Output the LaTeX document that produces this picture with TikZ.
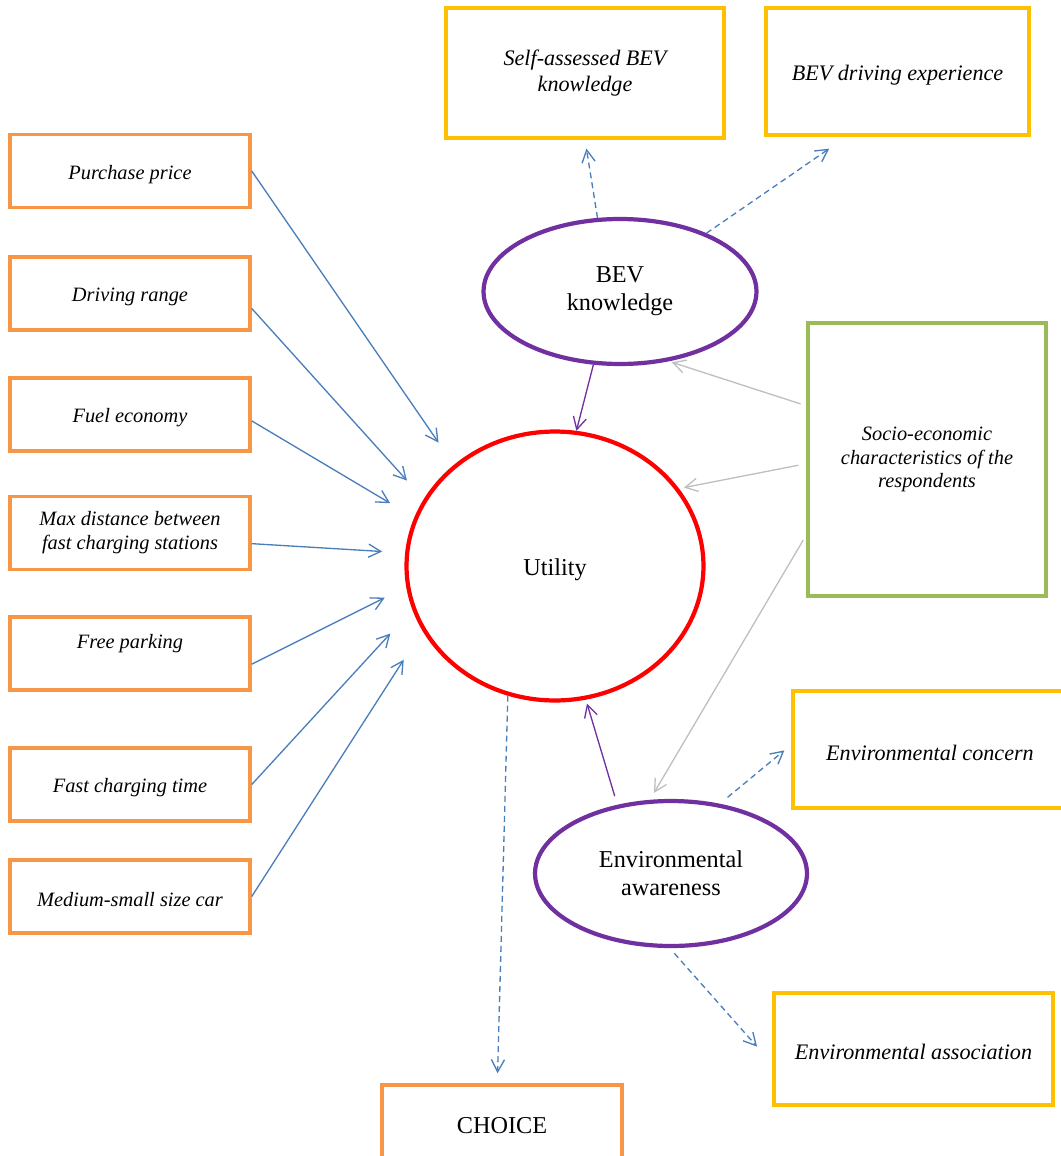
\documentclass[tikz,border=0pt]{standalone}
\usepackage{fontspec}
\setmainfont{Liberation Serif}
\usetikzlibrary{arrows.meta, shapes.geometric}

\definecolor{attrorange}{HTML}{F79646}
\definecolor{indyellow}{HTML}{FFC000}
\definecolor{socgreen}{HTML}{9BBB59}
\definecolor{latpurple}{HTML}{7030A0}
\definecolor{arrblue}{HTML}{4A7EBB}
\definecolor{arrgray}{HTML}{BFBFBF}

\begin{document}
\begin{tikzpicture}[x=0.02cm, y=-0.02cm,
                >={Straight Barb[length=7pt, width=7.5pt]},
                every node/.append style={execute at begin node={\rule{0pt}{1em}}},
                attr/.style={draw=attrorange, line width=2pt, minimum width=4.8cm, minimum height=1.46cm,
                    inner sep=0pt, align=center, font=\fontsize{11.6}{13.6}\selectfont\itshape},
                ind/.style={draw=indyellow, line width=2pt, inner sep=0pt, align=center,
                    font=\fontsize{12.6}{14.7}\selectfont\itshape},
                latent/.style={ellipse, draw=latpurple, line width=2.4pt, inner sep=0pt, align=center,
                    minimum width=5.46cm, minimum height=2.9cm, font=\fontsize{13.8}{15.9}\selectfont},
                attr arrow/.style={->, arrblue, line width=0.75pt},
                lat arrow/.style={->, latpurple, line width=0.75pt},
                soc arrow/.style={->, arrgray, line width=0.75pt},
                ind arrow/.style={->, arrblue, line width=0.75pt, dash pattern=on 3.4pt off 2.3pt}
            ]

            \useasboundingbox (0,0) rectangle (1061,1156);

            \node[attr] (pp) at (130,171) {Purchase price};
            \node[attr] (dr) at (130,293.5) {Driving range};
            \node[attr] (fe) at (130,414.5) {Fuel economy};
            \node[attr] (md) at (130,533) {Max distance between\\fast charging stations};
            \node[attr] (fp) at (130,653.5) {Free parking\\};
            \node[attr] (fc) at (130,784.5) {Fast charging time};
            \node[attr] (ms) at (130,896.5) {Medium-small size car};

            \node[ellipse, draw=red, line width=2.4pt, minimum width=5.94cm, minimum height=5.38cm,
                font=\fontsize{13.8}{15.9}\selectfont] (util) at (555,566) {Utility};
            \node[latent] (bev) at (620,291.5) {BEV\\knowledge};
            \node[latent, minimum width=5.44cm] (env) at (671,873.5) {Environmental\\awareness};

            \node[ind, minimum width=5.56cm, minimum height=2.6cm] (sab) at (585,73) {Self-assessed BEV\\knowledge};
            \node[ind, minimum width=5.26cm, minimum height=2.54cm] (drv) at (897.5,71.5) {BEV driving experience};
            \node[ind, minimum width=5.48cm, minimum height=2.34cm] (conc) at (930,749.5) {Environmental concern};
            \node[ind, minimum width=5.58cm, minimum height=2.24cm] (assoc) at (913.5,1049) {Environmental association};

            \node[draw=socgreen, line width=2pt, minimum width=4.76cm, minimum height=5.46cm, inner sep=0pt,
                align=center, font=\fontsize{11.6}{13.6}\selectfont\itshape] (socio) at (927,459.5)
                {Socio-economic\\characteristics of the\\respondents};

            \node[attr, font=\fontsize{13.8}{15.9}\selectfont] (choice) at (502,1121.5) {CHOICE};

            \draw[attr arrow, shorten >=0.54cm] (pp.east) -- (util.135);
            \draw[attr arrow, shorten >=0.5cm] (dr.-7) -- (util.153);
            \draw[attr arrow, shorten >=0.56cm] (fe.-3) -- (util.161);
            \draw[attr arrow, shorten >=0.46cm] (md.-5) -- (util.175);
            \draw[attr arrow, shorten >=0.48cm] (fp.-5) -- (util.-172);
            \draw[attr arrow, shorten >=0.65cm] (fc.east) -- (util.-163);
            \draw[attr arrow, shorten >=0.69cm] (ms.east) -- (util.-154);

            \draw[lat arrow] (bev.-110) -- (util.81);
            \draw[lat arrow, shorten <=0.18cm, shorten >=0.08cm] (env.128) -- (util.-77);

            \draw[soc arrow, shorten <=0.12cm, shorten >=0.06cm] (socio.156) -- (bev.-55);
            \draw[soc arrow, shorten <=0.16cm, shorten >=0.1cm] (socio.182) -- (util.32);
            \draw[soc arrow, shorten <=0.12cm, shorten >=0.16cm] (socio.212) -- (env.106);

            \draw[ind arrow, shorten >=0.18cm] (bev.107) -- (sab.south);
            \draw[ind arrow, shorten >=0.42cm] (bev.34) -- (drv.-128);
            \draw[ind arrow, shorten <=0.2cm, shorten >=0.18cm] (env.55) -- (conc.178);
            \draw[ind arrow, shorten <=0.14cm, shorten >=0.46cm] (env.-91) -- (assoc.186);
            \draw[ind arrow, shorten >=0.2cm] (util.-110) -- (choice.97);
        \end{tikzpicture}
\end{document}
